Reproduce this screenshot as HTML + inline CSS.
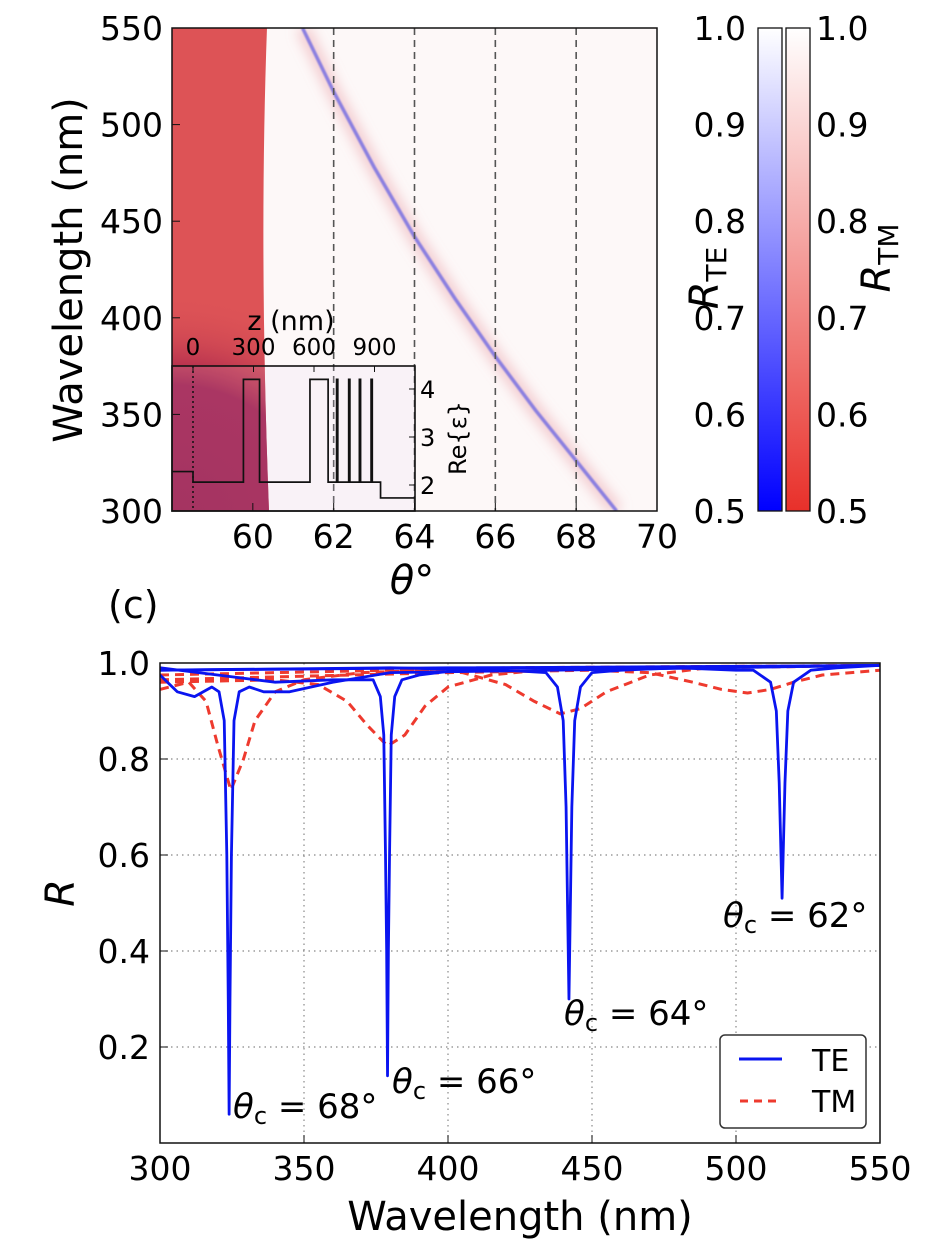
<!DOCTYPE html>
<html><head><meta charset="utf-8">
<style>
html,body{margin:0;padding:0;background:#fff;}
svg{display:block;font-family:"DejaVu Sans","Liberation Sans",sans-serif;}
</style></head>
<body>
<svg id="fig" width="948" height="1254" viewBox="0 0 948 1254" xmlns="http://www.w3.org/2000/svg">
<defs>
<radialGradient id="darkRed" cx="172" cy="520" r="300" gradientUnits="userSpaceOnUse" gradientTransform="translate(172 520) scale(0.8 0.75) translate(-172 -520)">
<stop offset="0" stop-color="#9a1848" stop-opacity="1"/>
<stop offset="0.6" stop-color="#a01c4a" stop-opacity="1"/>
<stop offset="0.8" stop-color="#c03a50" stop-opacity="0.45"/>
<stop offset="1" stop-color="#dd5255" stop-opacity="0"/>
</radialGradient>
<linearGradient id="teGrad" x1="0" y1="1" x2="0" y2="0">
<stop offset="0" stop-color="#0000ff"/><stop offset="1" stop-color="#ffffff"/>
</linearGradient>
<linearGradient id="tmGrad" x1="0" y1="1" x2="0" y2="0">
<stop offset="0" stop-color="#e8302a"/><stop offset="1" stop-color="#ffffff"/>
</linearGradient>
<filter id="blur4"><feGaussianBlur stdDeviation="6"/></filter>
<filter id="blur1"><feGaussianBlur stdDeviation="0.8"/></filter>
<clipPath id="hmClip"><rect x="172" y="28" width="485" height="483"/></clipPath>
<clipPath id="bClip"><rect x="160" y="663" width="720" height="480"/></clipPath>
</defs>
<g id="topPanel"></g>
<g id="bottomPanel"></g>
</svg>
<script>
// ===== Top heatmap data =====
const modeTheta = [61.23, 62, 63, 64, 65, 66, 67, 68, 69];
const modeLambda = [550, 517, 478, 442, 410, 380, 352, 326, 300];
const dashedTheta = [62, 64, 66, 68];
const xTicksTop = [60, 62, 64, 66, 68, 70];
const yTicksTop = [300, 350, 400, 450, 500, 550];
const cbTicks = [0.5, 0.6, 0.7, 0.8, 0.9, 1.0];
// inset permittivity profile (z nm, Re eps)
const epsZ =   [-104, 0, 0, 250, 250, 330, 330, 580, 580, 670, 670, 712, 712, 718, 718, 772, 772, 778, 778, 825, 825, 831, 831, 883, 883, 889, 889, 930, 930, 1100];
const epsVal = [2.28, 2.28, 2.06, 2.06, 4.2, 4.2, 2.06, 2.06, 4.2, 4.2, 2.06, 2.06, 4.2, 4.2, 2.06, 2.06, 4.2, 4.2, 2.06, 2.06, 4.2, 4.2, 2.06, 2.06, 4.2, 4.2, 2.06, 2.06, 1.73, 1.73];
const insetZTicks = [0, 300, 600, 900];
const insetEpsTicks = [2, 3, 4];

// ===== Bottom chart data =====
const wlTicks = [300, 350, 400, 450, 500, 550];
const rTicks = [0.2, 0.4, 0.6, 0.8, 1.0];
const te62wl = [300, 400, 480, 500, 506, 512, 514, 515, 516, 517, 518, 520, 526, 535, 550];
const te62R  = [0.985, 0.99, 0.99, 0.985, 0.985, 0.96, 0.9, 0.75, 0.51, 0.75, 0.9, 0.96, 0.985, 0.99, 0.995];
const te64wl = [300, 380, 420, 434, 438, 440, 441, 441.5, 442, 442.5, 443, 444, 446, 450, 460, 480, 550];
const te64R  = [0.985, 0.99, 0.985, 0.98, 0.95, 0.88, 0.7, 0.5, 0.30, 0.5, 0.7, 0.88, 0.95, 0.98, 0.985, 0.99, 0.995];
const te66wl = [300, 320, 340, 360, 374, 376.5, 377.7, 378.3, 378.7, 379, 379.3, 379.7, 380.3, 381.5, 384, 390, 410, 550];
const te66R  = [0.99, 0.975, 0.96, 0.965, 0.965, 0.93, 0.85, 0.6, 0.4, 0.14, 0.4, 0.6, 0.85, 0.93, 0.965, 0.975, 0.99, 0.995];
const te68wl = [300, 306, 312, 318, 320.5, 322.3, 323.2, 323.7, 324, 324.3, 324.8, 325.7, 327.5, 331, 336, 345, 360, 380, 550];
const te68R  = [0.975, 0.94, 0.93, 0.95, 0.94, 0.88, 0.6, 0.3, 0.06, 0.3, 0.6, 0.88, 0.94, 0.95, 0.94, 0.94, 0.96, 0.98, 0.995];
const tm62wl = [300, 400, 450, 470, 485, 495, 504, 512, 520, 530, 550];
const tm62R  = [0.965, 0.98, 0.985, 0.98, 0.96, 0.945, 0.9375, 0.945, 0.96, 0.975, 0.985];
const tm64wl = [300, 380, 405, 420, 430, 439, 446, 455, 470, 490, 550];
const tm64R  = [0.975, 0.985, 0.98, 0.955, 0.92, 0.894, 0.905, 0.94, 0.975, 0.99, 0.995];
const tm66wl = [300, 340, 355, 365, 372, 379, 385, 392, 400, 415, 440, 550];
const tm66R  = [0.96, 0.965, 0.955, 0.92, 0.87, 0.827, 0.85, 0.91, 0.95, 0.975, 0.99, 0.995];
const tm68wl = [300, 310, 316, 320, 324.6, 329, 333, 340, 350, 370, 420, 550];
const tm68R  = [0.945, 0.96, 0.92, 0.83, 0.735, 0.8, 0.88, 0.94, 0.965, 0.98, 0.99, 0.995];

const NS = "http://www.w3.org/2000/svg";
function mk(tag, attrs, parent, text){
  const el = document.createElementNS(NS, tag);
  for (const k in attrs) el.setAttribute(k, attrs[k]);
  if (text !== undefined) el.textContent = text;
  parent.appendChild(el);
  return el;
}
function sub(parent, parts, attrs){
  const t = mk('text', attrs, parent);
  parts.forEach(p => mk('tspan', p[1], t, p[0]));
  return t;
}
// top axes
const tx = t => 172 + (t - 58) * (485 / 12);
const ty = l => 511 - (l - 300) * (483 / 250);
const topG = document.getElementById('topPanel');

let e;
e = mk('rect', {x:172,y:28,width:485,height:483,fill:'#fdf8f8'}, topG);


const hm = mk('g', {'clip-path':'url(#hmClip)'}, topG);


e = mk('path', {d:`M172 28 L${tx(60.35)} 28 Q${tx(60.15)} 250 ${tx(60.4)} 511 L172 511 Z`, fill:'#dd5356'}, hm);


e = mk('path', {d:`M172 28 L${tx(60.35)} 28 Q${tx(60.15)} 250 ${tx(60.4)} 511 L172 511 Z`, fill:'url(#darkRed)'}, hm);


let pts = modeTheta.map((t,i)=>tx(t)+','+ty(modeLambda[i])).join(' ');
e = mk('polyline', {points:pts, fill:'none', stroke:'#e9a0a8', 'stroke-width':14, 'stroke-opacity':0.5, filter:'url(#blur4)'}, hm);


e = mk('polyline', {points:pts, fill:'none', stroke:'#8a7fe0', 'stroke-width':3.5, filter:'url(#blur1)'}, hm);


dashedTheta.forEach(t=>{
  const l = mk('line', {x1:tx(t),x2:tx(t),y1:28,y2:511,stroke:'#555','stroke-width':1.6,'stroke-dasharray':'7,5'}, topG);
  
  
});
// inset
const iz = z => 193 + z * (60.5 / 300);
const ie = v => 485 - (v - 2) * 48;
e = mk('rect', {x:172,y:366,width:243,height:145,fill:'rgba(225,210,240,0.15)',stroke:'#111','stroke-width':1.6}, topG);


e = mk('line', {x1:193,x2:193,y1:366,y2:511,stroke:'#111','stroke-width':1.5,'stroke-dasharray':'2,3'}, topG);


e = mk('polyline', {points:epsZ.map((z,i)=>Math.min(415,iz(z))+','+ie(epsVal[i])).join(' '),fill:'none',stroke:'#111','stroke-width':1.7}, topG);


insetZTicks.forEach(z=>{
  mk('line',{x1:iz(z),x2:iz(z),y1:366,y2:372,stroke:'#111','stroke-width':1},topG);
  const t = mk('text',{x:iz(z),y:355,'font-size':23,'text-anchor':'middle'},topG,String(z));
  
  
});
e = mk('text',{x:291,y:330,'font-size':27,'text-anchor':'middle'},topG,'z (nm)');


insetEpsTicks.forEach(v=>{
  mk('line',{x1:409,x2:415,y1:ie(v),y2:ie(v),stroke:'#111','stroke-width':1},topG);
  const t = mk('text',{x:420,y:ie(v)+9,'font-size':24},topG,String(v));
  
  
});
e = mk('text',{x:0,y:0,'font-size':24,'text-anchor':'middle',transform:'translate(466 438) rotate(-90)'},topG,'Re{ε}');


// heatmap frame & ticks
e = mk('rect', {x:172,y:28,width:485,height:483,fill:'none',stroke:'#111','stroke-width':1.5}, topG);


xTicksTop.forEach(t=>{
  mk('line',{x1:tx(t),x2:tx(t),y1:511,y2:503,stroke:'#111'},topG);
  const s = mk('text',{x:tx(t),y:548,'font-size':33,'text-anchor':'middle'},topG,String(t));
  
  
});
yTicksTop.forEach(l=>{
  mk('line',{x1:172,x2:180,y1:ty(l),y2:ty(l),stroke:'#111'},topG);
  const s = mk('text',{x:163,y:ty(l)+12,'font-size':33,'text-anchor':'end'},topG,String(l));
  
  
});
e = mk('text',{x:0,y:0,'font-size':40,'text-anchor':'middle',transform:'translate(82 270) rotate(-90)'},topG,'Wavelength (nm)');


e = mk('text',{x:412,y:594,'font-size':40,'text-anchor':'middle','font-style':'italic'},topG,'θ°');


// colorbars
const cy = v => 511 - (v - 0.5) * (483 / 0.5);
e = mk('rect',{x:758,y:28,width:24,height:483,fill:'url(#teGrad)',stroke:'#111','stroke-width':1.3},topG);


e = mk('rect',{x:786,y:28,width:24,height:483,fill:'url(#tmGrad)',stroke:'#111','stroke-width':1.3},topG);


cbTicks.forEach(v=>{
  const a = mk('text',{x:746,y:cy(v)+12,'font-size':33,'text-anchor':'end'},topG,v.toFixed(1));
  
  
  const b = mk('text',{x:816,y:cy(v)+12,'font-size':33},topG,v.toFixed(1));
  
  
});
e = sub(topG, [['R',{'font-style':'italic'}],['TE',{'font-size':28,dy:8}]], {x:0,y:0,'font-size':40,'text-anchor':'middle',transform:'translate(718 278) rotate(-90)'});


e = sub(topG, [['R',{'font-style':'italic'}],['TM',{'font-size':28,dy:8}]], {x:0,y:0,'font-size':40,'text-anchor':'middle',transform:'translate(890 258) rotate(-90)'});



// ===== bottom chart =====
const bx = w => 160 + (w - 300) * (720 / 250);
const by = r => 1143 - r * 480;
const bot = document.getElementById('bottomPanel');
e = mk('text',{x:108,y:618,'font-size':38},bot,'(c)');


wlTicks.slice(1,-1).forEach(w=>{
  const g = mk('line',{x1:bx(w),x2:bx(w),y1:663,y2:1143,stroke:'#888','stroke-width':1.2,'stroke-dasharray':'1.5,4'},bot);
  
  
});
rTicks.slice(0,-1).forEach(r=>{
  const g = mk('line',{x1:160,x2:880,y1:by(r),y2:by(r),stroke:'#888','stroke-width':1.2,'stroke-dasharray':'1.5,4'},bot);
  
  
});
const cl = mk('g',{'clip-path':'url(#bClip)'},bot);
function series(wl, R, name, te){
  const p = mk('polyline',{points:wl.map((w,i)=>bx(w)+','+by(R[i])).join(' '),fill:'none',
    stroke: te ? '#0a14f0' : '#ee3a2e','stroke-width': te ? 2.8 : 3,'stroke-dasharray': te ? 'none' : '9,6','stroke-linejoin':'round'},cl);
  
  
}
series(tm62wl, tm62R, 'tm-62-curve', false);
series(tm64wl, tm64R, 'tm-64-curve', false);
series(tm66wl, tm66R, 'tm-66-curve', false);
series(tm68wl, tm68R, 'tm-68-curve', false);
series(te62wl, te62R, 'te-62-curve', true);
series(te64wl, te64R, 'te-64-curve', true);
series(te66wl, te66R, 'te-66-curve', true);
series(te68wl, te68R, 'te-68-curve', true);
e = mk('rect',{x:160,y:663,width:720,height:480,fill:'none',stroke:'#111','stroke-width':1.5},bot);


wlTicks.forEach(w=>{
  mk('line',{x1:bx(w),x2:bx(w),y1:1143,y2:1135,stroke:'#111'},bot);
  const s = mk('text',{x:bx(w),y:1180,'font-size':33,'text-anchor':'middle'},bot,String(w));
  
  
});
rTicks.forEach(r=>{
  mk('line',{x1:160,x2:168,y1:by(r),y2:by(r),stroke:'#111'},bot);
  const s = mk('text',{x:150,y:by(r)+12,'font-size':33,'text-anchor':'end'},bot,r.toFixed(1));
  
  
});
e = mk('text',{x:520,y:1230,'font-size':40,'text-anchor':'middle'},bot,'Wavelength (nm)');


e = mk('text',{x:0,y:0,'font-size':40,'text-anchor':'middle','font-style':'italic',transform:'translate(74 893) rotate(-90)'},bot,'R');


const ann = [[233,1118,'68'],[392,1093,'66'],[564,1025,'64'],[723,927,'62']];
ann.forEach(a=>{
  const t = sub(bot, [['θ',{'font-style':'italic'}],['c',{'font-size':24,dy:6}],[' = ' + a[2] + '°',{dy:-6}]], {x:a[0],y:a[1],'font-size':34});
  
  
});
// legend
const lg = mk('g',{},bot);


mk('rect',{x:720,y:1035,width:146,height:93,rx:5,fill:'#fff',stroke:'#333','stroke-width':1.5},lg);
e = mk('line',{x1:739,x2:782,y1:1059,y2:1059,stroke:'#0a14f0','stroke-width':3},lg);


e = mk('text',{x:812,y:1071,'font-size':30},lg,'TE');


e = mk('line',{x1:740,x2:782,y1:1101,y2:1101,stroke:'#ee3a2e','stroke-width':3,'stroke-dasharray':'8,6'},lg);


e = mk('text',{x:812,y:1112,'font-size':30},lg,'TM');


</script>
</body></html>
